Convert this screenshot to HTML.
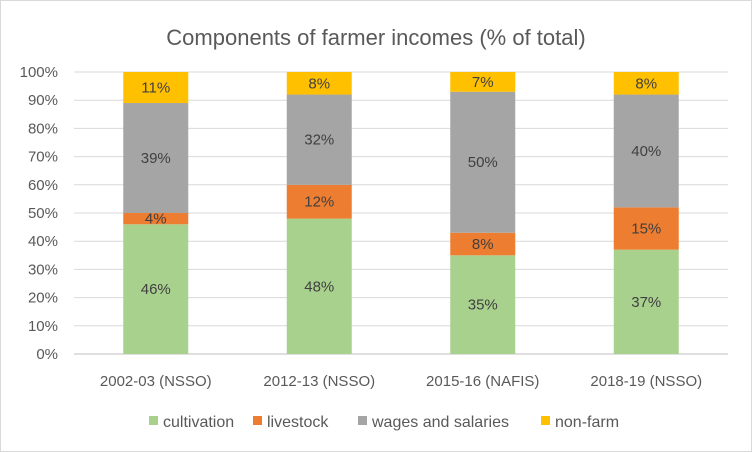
<!DOCTYPE html>
<html><head><meta charset="utf-8"><style>
body{margin:0;background:#fff}
svg{display:block;font-family:"Liberation Sans",sans-serif}
</style></head><body>
<svg id="c" width="752" height="452">
<rect x="0.5" y="0.5" width="751" height="451" fill="#fff" stroke="#d9d9d9"/>
<text x="376" y="45" text-anchor="middle" font-size="22" fill="#595959">Components of farmer incomes (% of total)</text>
<g id="grid"></g><g id="bars"></g><g id="legend"></g>
</svg>
<script>
const categories=["2002-03 (NSSO)","2012-13 (NSSO)","2015-16 (NAFIS)","2018-19 (NSSO)"];
const seriesNames=["cultivation","livestock","wages and salaries","non-farm"];
const cultivation=[46,48,35,37];
const livestock=[4,12,8,15];
const wages=[39,32,50,40];
const nonfarm=[11,8,7,8];
const yTicks=[0,10,20,30,40,50,60,70,80,90,100];
const colors=["#a9d18e","#ed7d31","#a5a5a5","#ffc000"];
const series=[cultivation,livestock,wages,nonfarm];
const NS="http://www.w3.org/2000/svg";
const x0=74,x1=728,y0=354,y100=72;
const y=v=>y0-(v/100)*(y0-y100);
const band=(x1-x0)/categories.length;
const xc=i=>x0+band*(i+0.5);
const bw=65;
function mk(tag,attrs,parent,txt){const e=document.createElementNS(NS,tag);for(const k in attrs)e.setAttribute(k,attrs[k]);if(txt!==undefined)e.textContent=txt;parent.appendChild(e);return e;}
const g=document.getElementById('grid'),b=document.getElementById('bars'),lg=document.getElementById('legend');
yTicks.forEach(t=>{
 const l=mk('line',{x1:x0,x2:x1,y1:y(t),y2:y(t),stroke:t===0?'#bfbfbf':'#d9d9d9','stroke-width':1},g);
 
 
 const tx=mk('text',{x:58,y:y(t)+5,'text-anchor':'end','font-size':15,fill:'#595959'},g,t+'%');
 
 
});
categories.forEach((c,i)=>{
 let acc=0;
 series.forEach((s,j)=>{
  const v=s[i];
  const r=mk('rect',{x:xc(i)-bw/2,y:y(acc+v),width:bw,height:y(acc)-y(acc+v),fill:colors[j]},b);
  
  
  const t=mk('text',{x:xc(i),y:(y(acc)+y(acc+v))/2+5,'text-anchor':'middle','font-size':15,fill:'#404040'},b,v+'%');
  
  
  acc+=v;
 });
 const xl=mk('text',{x:xc(i),y:386,'text-anchor':'middle','font-size':15,fill:'#595959'},b,c);
 
 
});
const lx=[149,253,358,541];
seriesNames.forEach((n,j)=>{
 const r=mk('rect',{x:lx[j],y:416,width:9,height:9,fill:colors[j]},lg);
 
 
 const t=mk('text',{x:lx[j]+14,y:427,'font-size':16,fill:'#595959'},lg,n);
 
 
});
</script>
</body></html>
